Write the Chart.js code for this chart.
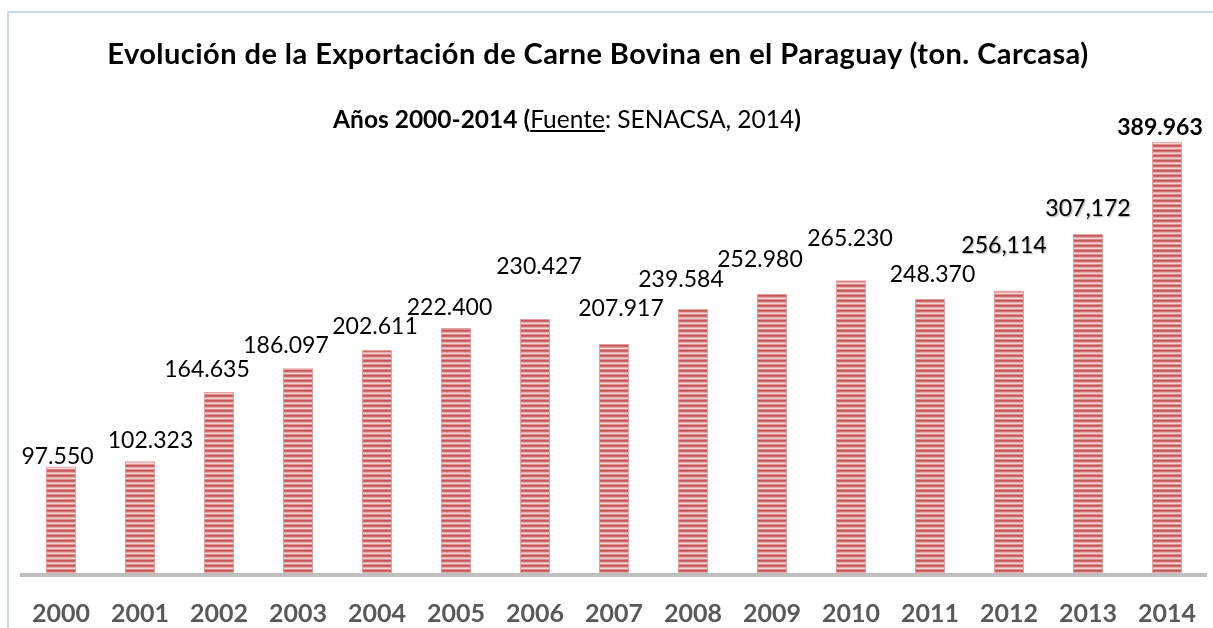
<!DOCTYPE html>
<html lang="es">
<head>
<meta charset="utf-8">
<title>Exportación de Carne Bovina en el Paraguay 2000-2014</title>
<script src="https://cdn.jsdelivr.net/npm/chart.js@4.4.1/dist/chart.umd.min.js"></script>
<style>
  html, body { margin: 0; padding: 0; background: #fff; }
  #wrap { position: relative; width: 1213px; height: 628px; overflow: hidden; font-family: Lato, 'Open Sans', sans-serif; }
  #frame { position: absolute; left: 7px; top: 11px; width: 1300px; height: 700px; border: 2px solid #C6D9F1; box-sizing: border-box; }
  #chart { position: absolute; left: 0; top: 0; }
  .ttl { position: absolute; width: 1200px; text-align: center; color: #000; white-space: nowrap; }
  #title { left: -2px; top: 35px; font-size: 29px; line-height: 36px; letter-spacing: 0.45px; font-weight: bold; }
  #subtitle { left: -33px; top: 104px; font-size: 24.5px; line-height: 30px; }
  #subtitle b { font-weight: bold; }
  #subtitle u { text-decoration: underline; text-underline-offset: 2px; }
</style>
</head>
<body>
<div id="wrap">
  <div id="frame"></div>
  <canvas id="chart" width="1213" height="628"></canvas>
  <div class="ttl" id="title">Evolución de la Exportación de Carne Bovina en el Paraguay (ton. Carcasa)</div>
  <div class="ttl" id="subtitle"><b>Años 2000-2014 (</b><u>Fuente</u>: SENACSA, 2014<b>)</b></div>
</div>

<script>
// --- data (ton. carcasa) ---
const years = ['2000', '2001', '2002', '2003', '2004', '2005', '2006', '2007',
               '2008', '2009', '2010', '2011', '2012', '2013', '2014'];
const exports = [97550, 102323, 164635, 186097, 202611, 222400, 230427, 207917,
                 239584, 252980, 265230, 248370, 256114, 307172, 389963];
// labels as printed in the source (mixed separators)
const valueLabels = ['97.550', '102.323', '164.635', '186.097', '202.611', '222.400', '230.427', '207.917',
                     '239.584', '252.980', '265.230', '248.370', '256,114', '307,172', '389.963'];

// manual label placement (px from bar top centre), like the hand-moved labels in the original
const labelShift = [[-3.5, -10], [10.5, -21], [-12, -22], [-12, -23], [-2, -23], [-6.5, -20], [4, -52], [7, -35],
                    [-12, -29.5], [-12, -34], [-1, -42], [2.5, -24.5], [-5, -45], [0, -25], [-7, -14.5]];

const STRIPES = ['#C4575A', '#CE6C6C', '#E6A9A9', '#F3D4D4', '#DC8C8C'];

function stripePattern(ctx) {
  const c = document.createElement('canvas');
  c.width = 4;
  c.height = STRIPES.length;
  const g = c.getContext('2d');
  STRIPES.forEach((col, i) => {
    g.fillStyle = col;
    g.fillRect(0, i, 4, 1);
  });
  return ctx.createPattern(c, 'repeat');
}

// draw value labels above bars
const barLabels = {
  id: 'barLabels',
  afterDatasetsDraw(chart) {
    const ctx = chart.ctx;
    const meta = chart.getDatasetMeta(0);
    ctx.save();
    ctx.textAlign = 'center';
    ctx.textBaseline = 'middle';
    ctx.fillStyle = '#000';
    meta.data.forEach((bar, i) => {
      const last = i === meta.data.length - 1;
      ctx.font = (last ? 'bold ' : '') + '23px Lato, "Open Sans", sans-serif';
      if (i === 12 || i === 13) {
        ctx.shadowColor = 'rgba(0,0,0,0.35)';
        ctx.shadowBlur = 1.5;
        ctx.shadowOffsetX = 1;
        ctx.shadowOffsetY = 1;
      } else {
        ctx.shadowColor = 'transparent';
      }
      ctx.fillText(valueLabels[i], bar.x + labelShift[i][0], bar.y + labelShift[i][1]);
    });
    ctx.restore();
  }
};

const canvas = document.getElementById('chart');
const ctx = canvas.getContext('2d');

new Chart(canvas, {
  type: 'bar',
  data: {
    labels: years,
    datasets: [{
      data: exports,
      backgroundColor: stripePattern(ctx),
      borderColor: 'rgba(225,150,150,0.9)',
      borderWidth: 1,
      categoryPercentage: 1,
      barPercentage: 0.38
    }]
  },
  options: {
    responsive: false,
    devicePixelRatio: 1,
    animation: false,
    layout: { padding: { left: 21.5, right: 6.5, top: 75, bottom: 0 } },
    plugins: {
      legend: { display: false },
      tooltip: { enabled: false }
    },
    scales: {
      x: {
        grid: { display: false },
        border: { display: true, color: '#BFBFBF', width: 4, z: 1 },
        ticks: {
          color: '#595959',
          padding: 16,
          font: { family: 'Lato, "Open Sans", sans-serif', size: 25, weight: 'bold' }
        },
        afterFit: (scale) => { scale.height = 53; }
      },
      y: {
        display: false,
        min: 0,
        max: 450000
      }
    }
  },
  plugins: [barLabels]
});
</script>
</body>
</html>
